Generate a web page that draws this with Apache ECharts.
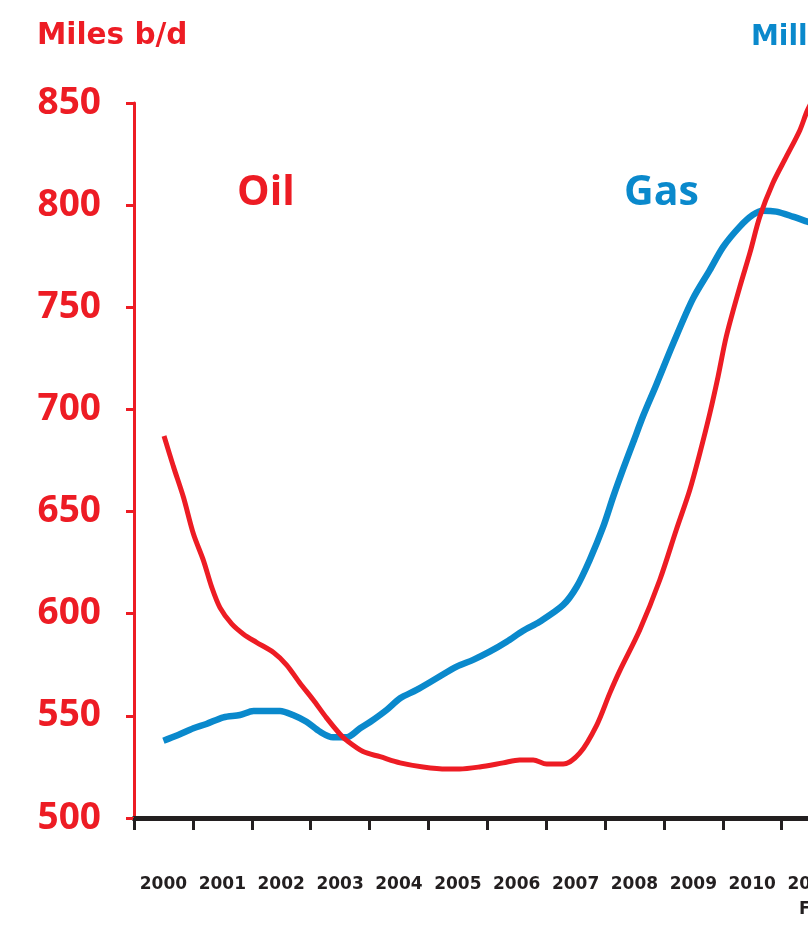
<!DOCTYPE html>
<html>
<head>
<meta charset="utf-8">
<script src="https://cdn.jsdelivr.net/npm/echarts@6/dist/echarts.min.js"></script>
<style>
html,body{margin:0;padding:0;background:#fff;overflow:hidden;width:808px;height:934px;}
#c{width:1160px;height:934px;}
</style>
</head>
<body>
<div id="c"></div>
<script>
// Year categories (x axis labels)
const years = ['2000','2001','2002','2003','2004','2005','2006','2007','2008','2009','2010','2011','2012','2013','2014','2015'];
// Y axis ticks
const yMin = 500, yMax = 850, yStep = 50;

// Oil (Miles b/d) — time in decimal years
const oilTime = [2000.51,2000.67,2000.84,2001.01,2001.18,2001.32,2001.46,2001.66,2001.86,2002.08,2002.37,2002.59,2002.82,2003.04,2003.27,2003.50,2003.61,2003.89,2004.18,2004.52,2004.91,2005.31,2005.53,2005.87,2006.27,2006.55,2006.78,2007.01,2007.29,2007.57,2007.86,2008.08,2008.25,2008.59,2008.93,2009.21,2009.44,2009.61,2009.78,2009.92,2010.06,2010.29,2010.46,2010.63,2010.85,2011.08,2011.31,2011.44,2011.65];
const oilValues = [687,672,657,639,626,613,603,595,590,586,581,575,566,558,549,541,538,532.5,530,527,525,524,524,525,527,528.4,528.4,526.4,526.4,531.7,545.5,561,572,592,616.5,641,660.6,678.5,698,716,735.7,760,776.5,794.4,810.7,823.7,836.7,846.5,858];

// Gas — time in decimal years, values on the left-axis scale
const gasTime = [2000.50,2000.75,2001.01,2001.23,2001.52,2001.80,2002.03,2002.48,2002.70,2002.93,2003.16,2003.38,2003.61,2003.84,2004.01,2004.29,2004.52,2004.80,2005.14,2005.48,2005.76,2006.04,2006.33,2006.61,2006.89,2007.29,2007.52,2007.74,2007.97,2008.14,2008.31,2008.48,2008.65,2008.87,2009.16,2009.49,2009.78,2010.01,2010.29,2010.51,2010.68,2010.91,2011.19,2011.44,2011.73];
const gasValues = [537.8,540.6,543.9,546,549.3,550.4,552.4,552.4,550.4,547.1,542.2,539.5,539.5,543.9,547,552.9,558.6,562.7,568.4,574.1,577.4,581.4,586.3,591.7,596.1,604.3,613.2,626.3,642.6,657.3,671,684,697,712,732.4,754,768.2,779.7,789.5,795.2,797.3,796.8,794.4,791.9,789];

const RED = '#ED1C24';
const BLUE = '#0A89CC';
const DARK = '#231F20';

const chart = echarts.init(document.getElementById('c'), null, {renderer:'canvas'});
chart.setOption({
  animation:false,
  backgroundColor:'#fff',
  grid:{left:134, top:103, bottom:116, right:84, containLabel:false},
  xAxis:[
    {
      type:'category', data:years, boundaryGap:true, position:'bottom',
      axisLine:{show:true, onZero:false, lineStyle:{color:DARK, width:5}},
      axisTick:{show:true, alignWithLabel:false, length:12, lineStyle:{color:DARK, width:3}},
      axisLabel:{color:DARK, fontFamily:'DejaVu Sans', fontWeight:'bold', fontSize:17, margin:58, interval:0},
      splitLine:{show:false}
    },
    {
      type:'value', min:2000, max:2000+years.length, show:false, position:'bottom',
      splitLine:{show:false}
    }
  ],
  yAxis:{
    type:'value', min:yMin, max:yMax, interval:yStep,
    axisLine:{show:true, onZero:false, lineStyle:{color:RED, width:3}},
    axisTick:{show:true, length:8, lineStyle:{color:RED, width:3}},
    axisLabel:{color:RED, fontFamily:'Open Sans', fontWeight:'bold', fontSize:37, margin:33},
    splitLine:{show:false}
  },
  series:[
    {
      name:'Gas', type:'line', xAxisIndex:1, yAxisIndex:0, showSymbol:false, smooth:0.3,
      data:gasTime.map((t,i)=>[t,gasValues[i]]),
      lineStyle:{color:BLUE, width:6.5}, itemStyle:{color:BLUE}, z:2
    },
    {
      name:'Oil', type:'line', xAxisIndex:1, yAxisIndex:0, showSymbol:false, smooth:0.3,
      data:oilTime.map((t,i)=>[t,oilValues[i]]),
      lineStyle:{color:RED, width:5}, itemStyle:{color:RED}, z:3
    }
  ],
  graphic:[
    {type:'text', left:37, top:21, style:{text:'Miles b/d', fill:RED, font:'bold 29.5px "DejaVu Sans"'}},
    {type:'text', left:751, top:24, style:{text:'Millones pc/d', fill:BLUE, font:'bold 28px "DejaVu Sans"'}},
    {type:'text', left:237, top:173, style:{text:'Oil', fill:RED, font:'bold 41px "Open Sans"'}},
    {type:'text', left:624, top:173, style:{text:'Gas', fill:BLUE, font:'bold 41px "Open Sans"'}},
    {type:'text', left:799, top:901, style:{text:'Fuente', fill:DARK, font:'bold 17px "DejaVu Sans"'}}
  ]
});
</script>
</body>
</html>
